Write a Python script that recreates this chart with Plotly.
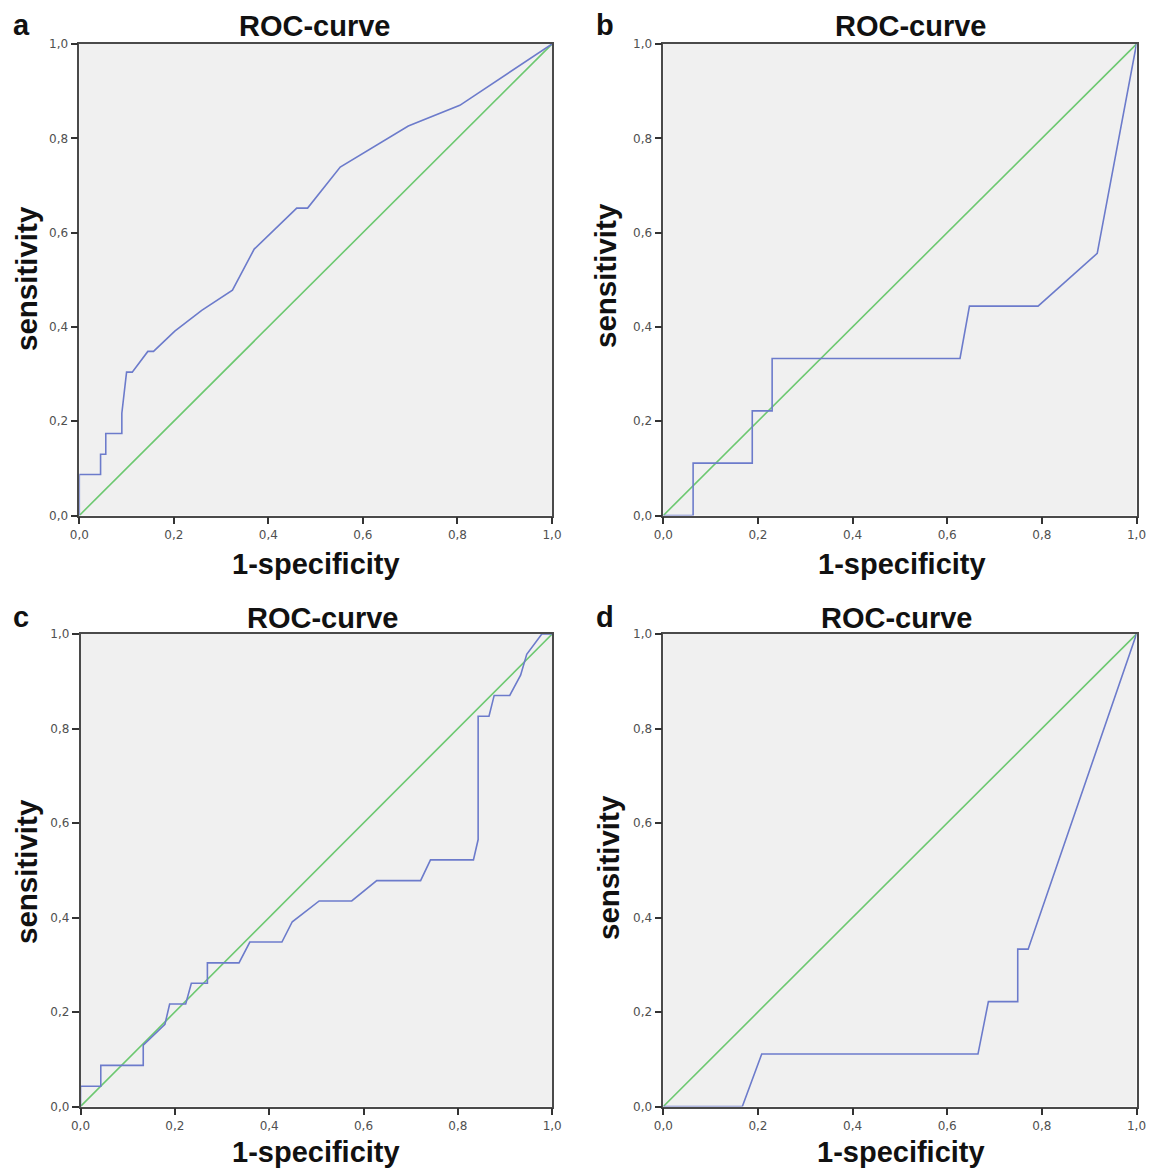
import plotly.graph_objects as go

W, H = 1149, 1171

# ---- data ----
panel_letters = ["a", "b", "c", "d"]
chart_title = "ROC-curve"
x_title = "1-specificity"
y_title = "sensitivity"

a_fpr = [0, 0, 0.045, 0.045, 0.056, 0.056, 0.090, 0.090, 0.100, 0.112, 0.145, 0.157,
         0.202, 0.259, 0.324, 0.370, 0.460, 0.483, 0.552, 0.696, 0.805, 1.0]
a_tpr = [0, 0.087, 0.087, 0.130, 0.130, 0.174, 0.174, 0.217, 0.304, 0.304, 0.348, 0.348,
         0.391, 0.435, 0.478, 0.565, 0.652, 0.652, 0.739, 0.826, 0.870, 1.0]

b_fpr = [0, 0.063, 0.063, 0.188, 0.188, 0.230, 0.230, 0.627, 0.647, 0.792, 0.917, 1.0]
b_tpr = [0, 0, 0.111, 0.111, 0.222, 0.222, 0.333, 0.333, 0.444, 0.444, 0.556, 1.0]

c_fpr = [0, 0, 0.043, 0.043, 0.133, 0.133, 0.179, 0.189, 0.223, 0.235, 0.269, 0.269,
         0.336, 0.359, 0.427, 0.449, 0.506, 0.575, 0.628, 0.721, 0.742, 0.833, 0.843,
         0.843, 0.866, 0.877, 0.910, 0.933, 0.946, 0.978, 1.0]
c_tpr = [0, 0.043, 0.043, 0.087, 0.087, 0.130, 0.174, 0.217, 0.217, 0.261, 0.261, 0.304,
         0.304, 0.348, 0.348, 0.391, 0.435, 0.435, 0.478, 0.478, 0.522, 0.522, 0.565,
         0.826, 0.826, 0.870, 0.870, 0.913, 0.957, 1.0, 1.0]

d_fpr = [0, 0.167, 0.208, 0.665, 0.687, 0.749, 0.749, 0.771, 1.0]
d_tpr = [0, 0, 0.111, 0.111, 0.222, 0.222, 0.333, 0.333, 1.0]

ref_x = [0, 1]
ref_y = [0, 1]

curves = [(a_fpr, a_tpr), (b_fpr, b_tpr), (c_fpr, c_tpr), (d_fpr, d_tpr)]

# ---- layout geometry (pixels) ----
# (left, right, top, bottom) of each plot area
boxes = [(79.3, 552.0, 44.0, 515.5),
         (663.3, 1136.5, 44.0, 515.5),
         (80.5, 552.2, 634.0, 1106.5),
         (663.3, 1136.5, 634.0, 1106.5)]
title_pos = [(315, 26), (911, 26), (323, 618), (897, 618)]
xt_pos = [(316, 564), (902, 564), (316, 1152), (901, 1152)]
yt_pos = [(26, 279), (606, 276), (26, 872), (608, 868)]
letter_pos = [(21, 25), (605, 25), (21, 617), (605, 617)]

BLUE = "#6c7bcb"
GREEN = "#6cc870"

def px(x):
    return x / W

def py(y):
    return 1 - y / H

fig = go.Figure()
annotations = []
for i, ((fx, fy), (l, r, t, b)) in enumerate(zip(curves, boxes)):
    n = "" if i == 0 else str(i + 1)
    xa, ya = "x" + n, "y" + n
    fig.add_trace(go.Scatter(x=ref_x, y=ref_y, mode="lines", xaxis=xa, yaxis=ya,
                             line=dict(color=GREEN, width=1.6), showlegend=False,
                             hoverinfo="skip"))
    fig.add_trace(go.Scatter(x=fx, y=fy, mode="lines", xaxis=xa, yaxis=ya,
                             line=dict(color=BLUE, width=1.6), showlegend=False))
    axis_common = dict(range=[0, 1], dtick=0.2, tick0=0, tickformat=".1f",
                       showgrid=False, zeroline=False, showline=True, mirror=True,
                       linecolor="#4a4a4a", linewidth=1.5, ticks="outside",
                       ticklen=7, tickwidth=1.5, tickcolor="#333333",
                       tickfont=dict(family="DejaVu Sans", size=12, color="#505050"),
                       automargin=False, fixedrange=True)
    fig.update_layout({
        "xaxis" + n: dict(domain=[px(l), px(r)], anchor=ya, **axis_common),
        "yaxis" + n: dict(domain=[py(b), py(t)], anchor=xa, **axis_common),
    })
    tx, ty = title_pos[i]
    annotations.append(dict(text="<b>%s</b>" % chart_title, x=px(tx), y=py(ty),
                            xref="paper", yref="paper", showarrow=False,
                            xanchor="center", yanchor="middle",
                            font=dict(family="Liberation Sans", size=29, color="#111")))
    tx, ty = xt_pos[i]
    annotations.append(dict(text="<b>%s</b>" % x_title, x=px(tx), y=py(ty),
                            xref="paper", yref="paper", showarrow=False,
                            xanchor="center", yanchor="middle",
                            font=dict(family="Liberation Sans", size=29, color="#111")))
    tx, ty = yt_pos[i]
    annotations.append(dict(text="<b>%s</b>" % y_title, x=px(tx), y=py(ty),
                            xref="paper", yref="paper", showarrow=False, textangle=-90,
                            xanchor="center", yanchor="middle",
                            font=dict(family="Liberation Sans", size=29.5, color="#111")))
    tx, ty = letter_pos[i]
    annotations.append(dict(text="<b>%s</b>" % panel_letters[i], x=px(tx), y=py(ty),
                            xref="paper", yref="paper", showarrow=False,
                            xanchor="center", yanchor="middle",
                            font=dict(family="Liberation Sans", size=29, color="#111")))

fig.update_layout(width=W, height=H,
                  margin=dict(l=0, r=0, t=0, b=0, pad=0, autoexpand=False),
                  paper_bgcolor="white", plot_bgcolor="#f0f0f0",
                  separators=",.", annotations=annotations, showlegend=False)

fig.write_html("out.html", config={"displayModeBar": False},
               post_script="document.body.style.margin='0';"
                           "document.body.style.overflow='hidden';")
